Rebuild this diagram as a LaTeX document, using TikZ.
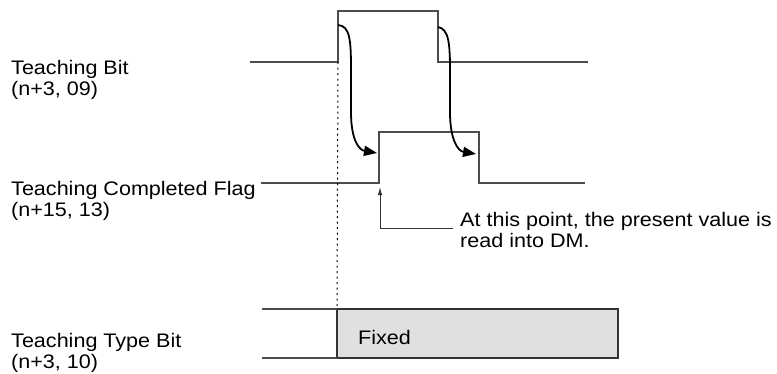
\documentclass[tikz,border=0pt]{standalone}
\usepackage{fontspec}
\setmainfont[FakeStretch=1.1]{Liberation Sans}
\usetikzlibrary{arrows.meta}

\begin{document}
\begin{tikzpicture}[x=1pt, y=-1pt,
    every node/.style={inner sep=0pt, font=\fontsize{19.6}{20.8}\selectfont},
    signal/.style={black!70, line width=1.3pt},
    cause/.style={black, line width=1.8pt, -{Triangle[length=13pt, width=10pt]}},
    pointer/.style={black!80, line width=1pt, -{Latex[length=8pt, width=4.5pt]}},
    fixedbox/.style={draw=black!80, line width=1.3pt, fill=black!12}]
  \useasboundingbox (0,0) rectangle (777,373);
  % Signal names
  \node[anchor=north west, align=left] (tbit) at (11,60) {Teaching Bit\\(n+3, 09)};
  \node[anchor=north west, align=left] (tcf) at (11,181) {Teaching Completed Flag\\(n+15, 13)};
  \node[anchor=north west, align=left] (ttype) at (11,333) {Teaching Type Bit\\(n+3, 10)};
  % Teaching Bit
  \coordinate (tbup) at (338,62);
  \coordinate (tbdown) at (438,62);
  \draw[signal] (250,62) -- (tbup) -- (338,11) -- (438,11) -- (tbdown) -- (588,62);
  % Teaching Completed Flag
  \coordinate (tcfup) at (379,183);
  \coordinate (tcfdown) at (479,183);
  \draw[signal] (261,183) -- (tcfup) -- (379,132) -- (479,132) -- (tcfdown) -- (585,183);
  % Teaching Type Bit
  \coordinate (fixtop) at (337,309);
  \coordinate (fixbot) at (337,358);
  \draw[fixedbox] (fixtop) rectangle (618,358);
  \node[anchor=base west] (fixed) at (358,344) {Fixed};
  \draw[signal] (262,309) -- (fixtop);
  \draw[signal] (262,358) -- (fixbot);
  \draw[black, line width=1pt, dash pattern=on 2pt off 3.5pt] (tbup) -- (fixtop);
  % Rising and falling edges cause the flag
  \coordinate (cause1) at (338,25);
  \coordinate (effect1) at (377,153);
  \coordinate (cause2) at (438,27);
  \coordinate (effect2) at (476,154);
  \draw[cause] (cause1) .. controls (350,26) and (351,40) .. (351,70) -- (351,112)
    .. controls (351,140) and (359,150) .. (effect1);
  \draw[cause] (cause2) .. controls (449,29) and (450,44) .. (450,72) -- (450,112)
    .. controls (450,140) and (458,151) .. (effect2);
  % Note
  \node[anchor=north west, align=left] (note) at (460,212) {At this point, the present value is\\read into DM.};
  \coordinate (notehook) at (453,228.3);
  \coordinate (readpt) at (380,187);
  \draw[pointer] (notehook) -| (readpt);
\end{tikzpicture}
\end{document}
